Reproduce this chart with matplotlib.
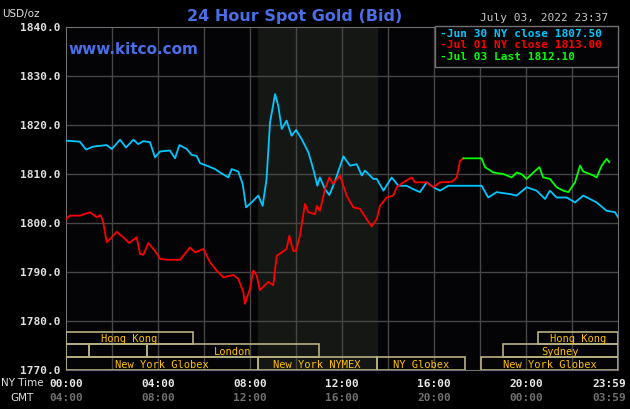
import matplotlib
matplotlib.use("Agg")
import matplotlib.pyplot as plt
from matplotlib.patches import Rectangle

blue_h = [0,0.6,0.87,1.19,1.77,1.99,2.35,2.61,2.93,3.14,3.36,3.65,3.87,4.09,4.52,4.74,4.93,5.25,5.46,5.68,5.83,6.12,6.48,6.7,7.06,7.2,7.49,7.68,7.83,8.07,8.36,8.55,8.72,8.87,9.09,9.23,9.38,9.59,9.81,10,10.25,10.54,10.75,10.93,11.04,11.26,11.45,11.7,12.06,12.35,12.64,12.86,13.0,13.36,13.51,13.8,14.16,14.45,14.81,15.1,15.39,15.68,15.97,16.26,16.62,17.13,18.07,18.36,18.72,19.3,19.59,20.03,20.46,20.83,21.04,21.33,21.77,22.13,22.49,23.07,23.5,23.87,24.0]
blue_v = [1816.8,1816.6,1815,1815.6,1815.9,1815.1,1817,1815.4,1817,1816.1,1816.7,1816.5,1813.4,1814.6,1814.8,1813.2,1815.9,1815.1,1813.9,1813.7,1812.2,1811.7,1811,1810.3,1809.3,1811,1810.5,1808,1803.2,1804.2,1805.6,1803.5,1809,1820.5,1826.3,1823.9,1819.2,1820.9,1817.8,1819,1817.1,1814.4,1811,1807.6,1809.3,1806.9,1805.7,1808.6,1813.6,1811.7,1812,1809.7,1810.7,1809,1809,1806.6,1809.3,1807.6,1807.6,1806.9,1806.3,1808.3,1807.3,1806.6,1807.6,1807.6,1807.6,1805.2,1806.3,1805.9,1805.6,1807.3,1806.6,1804.9,1806.6,1805.2,1805.2,1804.2,1805.6,1804.2,1802.5,1802.2,1801.2]

red_h = [0,0.17,0.61,1.04,1.33,1.51,1.62,1.77,1.91,2.2,2.49,2.75,3.07,3.22,3.36,3.58,3.87,4.09,4.38,4.96,5.39,5.61,5.97,6.26,6.55,6.84,7.28,7.49,7.71,7.78,8.0,8.14,8.29,8.43,8.8,9.01,9.16,9.38,9.59,9.71,9.88,10.0,10.17,10.39,10.54,10.83,10.9,11.04,11.26,11.45,11.62,11.91,12.2,12.49,12.78,13.07,13.29,13.51,13.65,13.94,14.23,14.38,14.67,15.03,15.17,15.39,15.68,15.97,16.26,16.77,16.99,17.13,17.28]
red_v = [1800.8,1801.5,1801.5,1802.2,1801.2,1801.6,1800.1,1796.1,1796.7,1798.2,1797.1,1795.9,1797.1,1793.7,1793.5,1795.9,1794.3,1792.7,1792.5,1792.5,1795,1794,1794.7,1792,1790.3,1788.9,1789.4,1788.6,1785.9,1783.5,1786.6,1790.3,1789.3,1786.3,1788,1787.3,1793.3,1794,1794.7,1797.4,1794.3,1794.3,1797.4,1803.9,1802.2,1801.8,1803.5,1802.5,1806.9,1809.3,1808,1809.7,1805.6,1803.2,1802.9,1800.8,1799.3,1800.8,1803.5,1805.2,1805.6,1807.3,1808.3,1809.3,1808.3,1808.3,1808.3,1807.3,1808.3,1808.4,1809.3,1812.7,1813.2]

green_h = [17.28,18.07,18.22,18.58,19.01,19.38,19.59,19.8,20.03,20.32,20.58,20.75,21.04,21.33,21.62,21.84,22.13,22.35,22.49,22.93,23.07,23.29,23.51,23.62]
green_v = [1813.2,1813.2,1811.4,1810.3,1810,1809.3,1810.3,1810,1809,1810.3,1811.4,1809.3,1809,1807.3,1806.6,1806.3,1808.3,1811.7,1810.5,1809.7,1809.3,1811.7,1813.1,1812.4]

y_ticks = [1770,1780,1790,1800,1810,1820,1830,1840]
x_ticks = [0,4,8,12,16,20,23.983]
ny_labels = ["00:00","04:00","08:00","12:00","16:00","20:00","23:59"]
gmt_labels = ["04:00","08:00","12:00","16:00","20:00","00:00","03:59"]

sessions = [(0,0,5.5,"Hong Kong"),(0,20.5,24,"Hong Kong"),
            (1,0,1.0,""),(1,1.0,3.5,""),(1,3.5,11.0,"London"),(1,19.0,24,"Sydney"),
            (2,0,8.33,"New York Globex"),(2,8.33,13.5,"New York NYMEX"),
            (2,13.5,17.35,"NY Globex"),(2,18.05,24,"New York Globex")]

mono = "DejaVu Sans Mono"
fig = plt.figure(figsize=(6.3,4.1), dpi=100, facecolor="black")
ax = fig.add_axes([66/630, 1-371/410, 552/630, 343/410])
ax.set_facecolor("#040306")
ax.set_xlim(0,24)
ax.set_ylim(1770,1840)
ax.axvspan(8.33,13.5, color="#141714", zorder=0)
for h in range(2,24,2):
    ax.axvline(h, color="#464646", lw=1, zorder=1)
for v in y_ticks[1:-1]:
    ax.axhline(v, color="#464646", lw=1, zorder=1)
ax.plot(blue_h, blue_v, color="#00c8ff", lw=1.3, zorder=3)
ax.plot(red_h, red_v, color="#ff0000", lw=1.3, zorder=3)
ax.plot(green_h, green_v, color="#00ff00", lw=1.3, zorder=3)

rows = [(1777.75,1775.3),(1775.3,1772.65),(1772.65,1770.0)]
for r,s,e,lab in sessions:
    top,bot = rows[r]
    ax.add_patch(Rectangle((s,bot),e-s,top-bot, fill=False, ec="#b8b080", lw=1.2, zorder=4))
    if lab:
        ax.text((s+e)/2,(top+bot)/2,lab,color="#ffc000",fontsize=7.5,family=mono,ha="center",va="center",zorder=5)

for sp in ax.spines.values():
    sp.set_color("#707070")
ax.set_xticks([]); ax.set_yticks([])
for v in y_ticks:
    ax.text(-0.25, v, f"{v:.1f}", color="#e0e0e0", fontsize=8, family=mono, fontweight="bold", ha="right", va="center", clip_on=False)
tr = ax.get_xaxis_transform()
for i,(h,a,b) in enumerate(zip(x_ticks, ny_labels, gmt_labels)):
    if i == len(x_ticks)-1:
        x, ha = 24.35, "right"
    else:
        x, ha = h, "center"
    ax.text(x, -0.037, a, transform=tr, color="#e8e8e8", fontsize=8, family=mono, fontweight="bold", ha=ha, va="center", clip_on=False)
    ax.text(x, -0.08, b, transform=tr, color="#707070", fontsize=8, family=mono, fontweight="bold", ha=ha, va="center", clip_on=False)
fig.text(1/630, 1-383/410, "NY Time", color="#e0e0e0", fontsize=7.5, ha="left", va="center")
fig.text(10/630, 1-398/410, "GMT", color="#e0e0e0", fontsize=7.5, ha="left", va="center")
fig.text(2/630, 1-14/410, "USD/oz", color="#e0e0e0", fontsize=7.5, ha="left", va="center")
fig.text(295/630, 1-16/410, "24 Hour Spot Gold (Bid)", color="#4a6ee8", fontsize=11.5, fontweight="bold", ha="center", va="center")
fig.text(68/630, 1-49/410, "www.kitco.com", color="#4a6ee8", fontsize=11, fontweight="bold", ha="left", va="center")
fig.text(608/630, 1-18/410, "July 03, 2022 23:37", color="#c8c8c8", fontsize=8, family=mono, ha="right", va="center")

lx0, lx1, ly0, ly1 = 435/630, 618/630, 1-68/410, 1-27/410
fig.patches.append(Rectangle((lx0, ly0), lx1-lx0, ly1-ly0, transform=fig.transFigure, fc="#040306", ec="#707070", lw=1, zorder=6))
legend = [("-Jun 30 NY close 1807.50","#00c8ff"),("-Jul 01 NY close 1813.00","#ff0000"),("-Jul 03 Last 1812.10","#00ff00")]
for i,(t,c) in enumerate(legend):
    fig.text(440/630, 1-(34+i*11.5)/410, t, color=c, fontsize=8, family=mono, fontweight="bold", ha="left", va="center", zorder=7)

fig.savefig("out.png", dpi=100, facecolor="black")
